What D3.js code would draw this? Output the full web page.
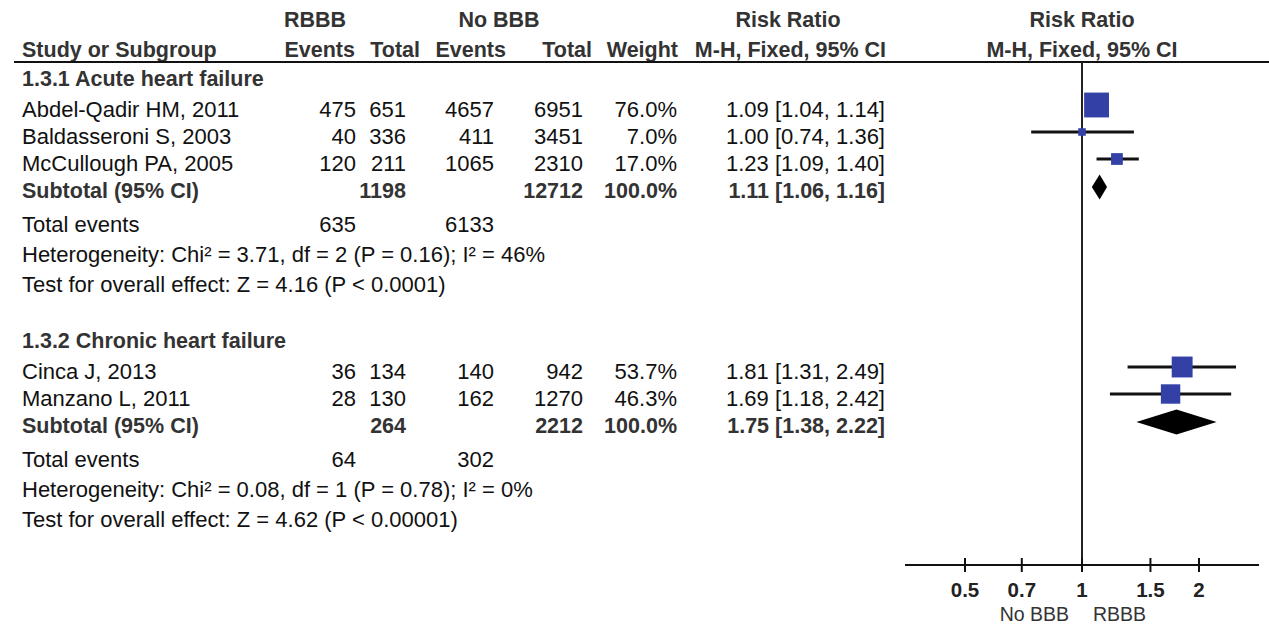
<!DOCTYPE html>
<html>
<head>
<meta charset="utf-8">
<script src="https://cdn.jsdelivr.net/npm/d3@7/dist/d3.min.js"></script>
<style>
  html, body { margin: 0; padding: 0; background: #fff; }
  svg { display: block; font-family: "Liberation Sans", Arial, Helvetica, sans-serif; }
</style>
</head>
<body>
<svg id="chart" width="1269" height="625"></svg>
<script>
// ---- data ----
const groupNames = ["1.3.1 Acute heart failure", "1.3.2 Chronic heart failure"];
const studies = ["Abdel-Qadir HM, 2011", "Baldasseroni S, 2003", "McCullough PA, 2005", "Cinca J, 2013", "Manzano L, 2011"];
const studyGroup = [0, 0, 0, 1, 1];
const rbbbEvents = [475, 40, 120, 36, 28];
const rbbbTotal = [651, 336, 211, 134, 130];
const noBbbEvents = [4657, 411, 1065, 140, 162];
const noBbbTotal = [6951, 3451, 2310, 942, 1270];
const weights = [76.0, 7.0, 17.0, 53.7, 46.3];
const riskRatio = [1.09, 1.00, 1.23, 1.81, 1.69];
const ciLow = [1.04, 0.74, 1.09, 1.31, 1.18];
const ciHigh = [1.14, 1.36, 1.40, 2.49, 2.42];

const subRbbbTotal = [1198, 264];
const subNoBbbTotal = [12712, 2212];
const subRR = [1.11, 1.75];
const subLow = [1.06, 1.38];
const subHigh = [1.16, 2.22];
const totalEventsRbbb = [635, 64];
const totalEventsNoBbb = [6133, 302];
const hetChi2 = ["3.71", "0.08"];
const hetDf = [2, 1];
const hetP = ["0.16", "0.78"];
const hetI2 = [46, 0];
const effectZ = ["4.16", "4.62"];
const effectP = ["< 0.0001", "< 0.00001"];

const axisTicks = [0.5, 0.7, 1, 1.5, 2];
const axisLabels = ["No BBB", "RBBB"];

// ---- layout ----
const svg = d3.select("#chart");
const FS = 22;      // body text
const FSB = 21.5;   // bold text
const boldCol = "#333";
const txtCol = "#111";
const markBlue = "#3340a6";

const col = {
  study: 22,
  rbbbEv: 356, rbbbTot: 406,
  noEv: 494, noTot: 583,
  weight: 677, ci: 885
};
const head = {
  rbbbEv: 355, rbbbTot: 420, noEv: 506, noTot: 592, weight: 678, ci: 886
};

const x = d3.scaleLog().domain([0.5, 2]).range([965, 1199]);
const x0 = x(1);
const axisY = 565;
const lineTop = 62;

function text(xp, y, s, opts = {}) {
  return svg.append("text")
    .attr("x", xp).attr("y", y)
    .attr("font-size", opts.size || (opts.bold ? FSB : FS))
    .attr("font-weight", opts.bold ? "bold" : "normal")
    .attr("fill", opts.fill || (opts.bold ? boldCol : txtCol))
    .attr("text-anchor", opts.anchor || "start")
    .text(s);
}

// header
text(315, 27, "RBBB", { bold: true, anchor: "middle" });
text(499, 27, "No BBB", { bold: true, anchor: "middle" });
text(788, 27, "Risk Ratio", { bold: true, anchor: "middle" });
text(x0, 27, "Risk Ratio", { bold: true, anchor: "middle" });

text(col.study, 57, "Study or Subgroup", { bold: true });
text(head.rbbbEv, 57, "Events", { bold: true, anchor: "end" });
text(head.rbbbTot, 57, "Total", { bold: true, anchor: "end" });
text(head.noEv, 57, "Events", { bold: true, anchor: "end" });
text(head.noTot, 57, "Total", { bold: true, anchor: "end" });
text(head.weight, 57, "Weight", { bold: true, anchor: "end" });
text(head.ci, 57, "M-H, Fixed, 95% CI", { bold: true, anchor: "end" });
text(x0, 57, "M-H, Fixed, 95% CI", { bold: true, anchor: "middle" });

svg.append("line")
  .attr("x1", 14).attr("x2", 1269).attr("y1", lineTop).attr("y2", lineTop)
  .attr("stroke", "#111").attr("stroke-width", 2);

// null line
svg.append("line")
  .attr("x1", x0).attr("x2", x0).attr("y1", lineTop).attr("y2", axisY)
  .attr("stroke", "#222").attr("stroke-width", 2);

const size = d3.scaleSqrt().domain([0, 100]).range([0, 28.5]);
const fmtCI = (r, l, h) => `${r.toFixed(2)} [${l.toFixed(2)}, ${h.toFixed(2)}]`;

// group blocks
const groupStart = [86, 348];
groupNames.forEach((g, gi) => {
  let y = groupStart[gi];
  text(col.study, y, g, { bold: true });
  y += 31;
  const idx = d3.range(studies.length).filter(i => studyGroup[i] === gi);
  idx.forEach(i => {
    text(col.study, y, studies[i]);
    text(col.rbbbEv, y, rbbbEvents[i], { anchor: "end" });
    text(col.rbbbTot, y, rbbbTotal[i], { anchor: "end" });
    text(col.noEv, y, noBbbEvents[i], { anchor: "end" });
    text(col.noTot, y, noBbbTotal[i], { anchor: "end" });
    text(col.weight, y, weights[i].toFixed(1) + "%", { anchor: "end" });
    text(col.ci, y, fmtCI(riskRatio[i], ciLow[i], ciHigh[i]), { anchor: "end" });

    const cy = y - 12;
    svg.append("line")
      .attr("x1", x(ciLow[i])).attr("x2", x(ciHigh[i]))
      .attr("y1", cy).attr("y2", cy)
      .attr("stroke", "#111").attr("stroke-width", 3);
    const s = size(weights[i]);
    svg.append("rect")
      .attr("x", x(riskRatio[i]) - s / 2).attr("y", cy - s / 2)
      .attr("width", s).attr("height", s)
      .attr("fill", markBlue);
    y += 27;
  });

  // subtotal
  text(col.study, y, "Subtotal (95% CI)", { bold: true });
  text(col.rbbbTot, y, subRbbbTotal[gi], { bold: true, anchor: "end" });
  text(col.noTot, y, subNoBbbTotal[gi], { bold: true, anchor: "end" });
  text(col.weight, y, "100.0%", { bold: true, anchor: "end" });
  text(col.ci, y, fmtCI(subRR[gi], subLow[gi], subHigh[gi]), { bold: true, anchor: "end" });
  const dy = y - 11, hh = 12.5;
  svg.append("path")
    .attr("d", `M${x(subLow[gi])},${dy} L${x(subRR[gi])},${dy - hh} L${x(subHigh[gi])},${dy} L${x(subRR[gi])},${dy + hh} Z`)
    .attr("fill", "#000");

  y += 34;
  text(col.study, y, "Total events");
  text(col.rbbbEv, y, totalEventsRbbb[gi], { anchor: "end" });
  text(col.noEv, y, totalEventsNoBbb[gi], { anchor: "end" });
  y += 30;
  text(col.study, y, `Heterogeneity: Chi² = ${hetChi2[gi]}, df = ${hetDf[gi]} (P = ${hetP[gi]}); I² = ${hetI2[gi]}%`);
  y += 30;
  text(col.study, y, `Test for overall effect: Z = ${effectZ[gi]} (P ${effectP[gi]})`);
});

// axis
svg.append("line")
  .attr("x1", 905).attr("x2", 1259).attr("y1", axisY).attr("y2", axisY)
  .attr("stroke", "#111").attr("stroke-width", 2);
axisTicks.forEach(t => {
  svg.append("line")
    .attr("x1", x(t)).attr("x2", x(t)).attr("y1", axisY - 7).attr("y2", axisY + 7)
    .attr("stroke", "#111").attr("stroke-width", 2);
  text(x(t), 597, t, { bold: true, anchor: "middle", size: 20.5, fill: "#222" });
});
text(x0 - 13, 621, axisLabels[0], { anchor: "end", size: 19.5, fill: "#333" });
text(x0 + 11, 621, axisLabels[1], { anchor: "start", size: 19.5, fill: "#333" });
</script>
</body>
</html>
